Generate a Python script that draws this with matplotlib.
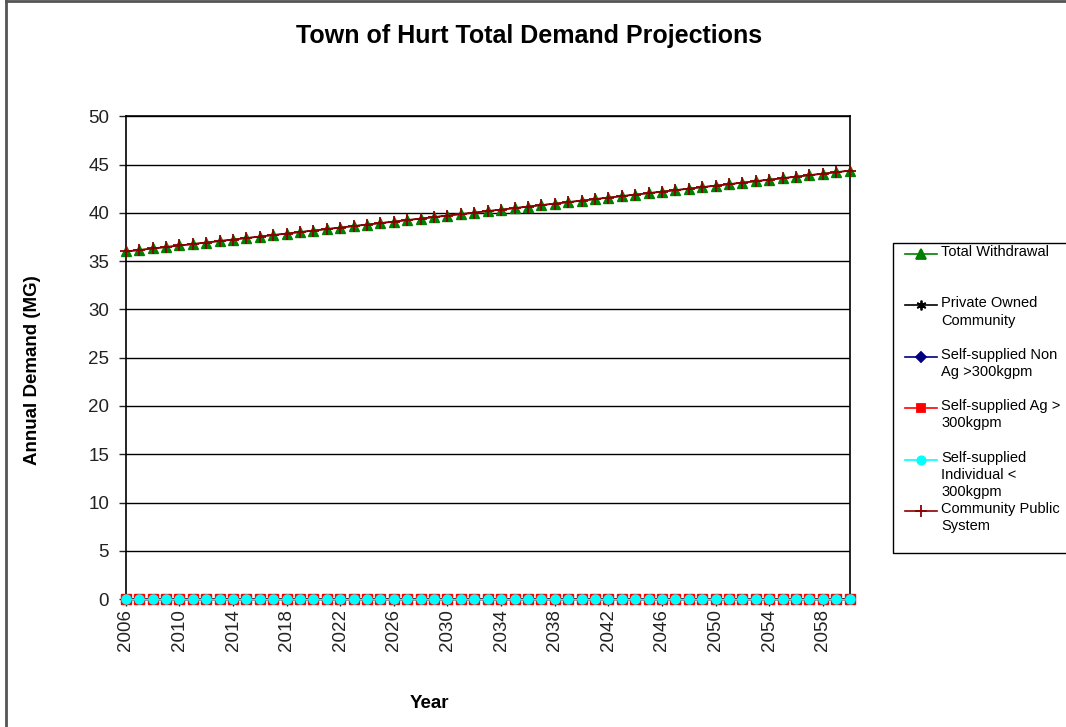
import matplotlib
matplotlib.use("Agg")
import matplotlib.pyplot as plt
from matplotlib.lines import Line2D
from matplotlib.patches import Rectangle

plt.rcParams['font.family'] = ['Liberation Sans', 'DejaVu Sans']

# data
years = list(range(2006, 2061))
total_withdrawal = [36.00, 36.15, 36.31, 36.46, 36.62, 36.77, 36.93, 37.08, 37.24, 37.39,
                    37.55, 37.70, 37.86, 38.01, 38.17, 38.32, 38.48, 38.63, 38.79, 38.94,
                    39.10, 39.25, 39.41, 39.56, 39.72, 39.87, 40.03, 40.18, 40.34, 40.49,
                    40.65, 40.80, 40.96, 41.11, 41.27, 41.42, 41.58, 41.73, 41.89, 42.04,
                    42.20, 42.35, 42.51, 42.66, 42.82, 42.97, 43.13, 43.28, 43.44, 43.59,
                    43.75, 43.90, 44.06, 44.21, 44.37]
community_public = list(total_withdrawal)
private_owned = [0] * len(years)
self_non_ag = [0] * len(years)
self_ag = [0] * len(years)
self_individual = [0] * len(years)

series_names = ['Total Withdrawal', 'Private Owned\nCommunity', 'Self-supplied Non\nAg >300kgpm',
                'Self-supplied Ag >\n300kgpm', 'Self-supplied\nIndividual <\n300kgpm',
                'Community Public\nSystem']
colors = ['green', 'black', 'navy', 'red', 'cyan', '#8b0000']
asterisk = (6, 2, 0)
markers = ['^', asterisk, 'D', 's', 'o', '+']
msizes = [7, 7, 5, 6, 6, 8]

W, H = 1066, 727
fig = plt.figure(figsize=(W / 100, H / 100), dpi=100)
ax = fig.add_axes([0.118, 0.176, 0.679, 0.664])

ax.plot(years, total_withdrawal, color='green', marker='^', markersize=7, lw=1, clip_on=False, zorder=3)
ax.plot(years, private_owned, color='black', marker=asterisk, markersize=6, lw=1, clip_on=False, zorder=3)
ax.plot(years, self_non_ag, color='navy', marker='D', markersize=5, lw=1, clip_on=False, zorder=3)
ax.plot(years, self_ag, color='red', marker='s', markersize=6.5, lw=1, clip_on=False, zorder=4)
ax.plot(years, self_individual, color='cyan', marker='o', markersize=6.5, lw=1, clip_on=False, zorder=5)
ax.plot(years, community_public, color='#8b0000', marker='+', markersize=8, mew=1.3, lw=1.3,
        clip_on=False, zorder=6)

ax.set_xlim(2006, 2060)
ax.set_ylim(0, 50)
ax.set_yticks(range(0, 51, 5))
ax.set_xticks(range(2006, 2060, 4))
ax.set_xticklabels([str(y) for y in range(2006, 2060, 4)], rotation=90)
ax.tick_params(labelsize=13.5, length=5, width=1, direction='out', colors='#222222')
ax.tick_params(axis='y', pad=7)
ax.tick_params(axis='x', pad=2)
ax.grid(axis='y', color='black', lw=1)
ax.set_axisbelow(True)
for s in ax.spines.values():
    s.set_linewidth(1.2)

fig.text(33 / W, 1 - 370 / H, 'Annual Demand (MG)', fontsize=13.5, fontweight='bold',
         rotation=90, ha='center', va='center')
fig.text(429 / W, 1 - 703 / H, 'Year', fontsize=13.5, fontweight='bold', ha='center', va='center')
fig.text(529 / W, 1 - 36 / H, 'Town of Hurt Total Demand Projections', fontsize=18,
         fontweight='bold', ha='center', va='center')

# legend drawn by hand to keep the spacing of the original
fig.add_artist(Rectangle((893 / W, 1 - 553 / H), 200 / W, 310 / H, transform=fig.transFigure,
                         facecolor='white', edgecolor='black', lw=1))
for i, name in enumerate(series_names):
    y_top = 254 + i * 51.4
    fy = 1 - y_top / H
    fig.add_artist(Line2D([905 / W, 937 / W], [fy, fy], color=colors[i], lw=1.2,
                          transform=fig.transFigure))
    fig.add_artist(Line2D([921 / W], [fy], color=colors[i], marker=markers[i],
                          markersize=msizes[i], mew=1.3, transform=fig.transFigure))
    fig.text(941 / W, fy + 9 / H, name, fontsize=10.5, ha='left', va='top', linespacing=1.3)

# outer chart frame
fig.add_artist(Line2D([0.006, 0.006], [0, 0.999], color='#555555', lw=2))
fig.add_artist(Line2D([0.006, 1], [0.998, 0.998], color='#555555', lw=2))

fig.savefig('out.png', dpi=100)
